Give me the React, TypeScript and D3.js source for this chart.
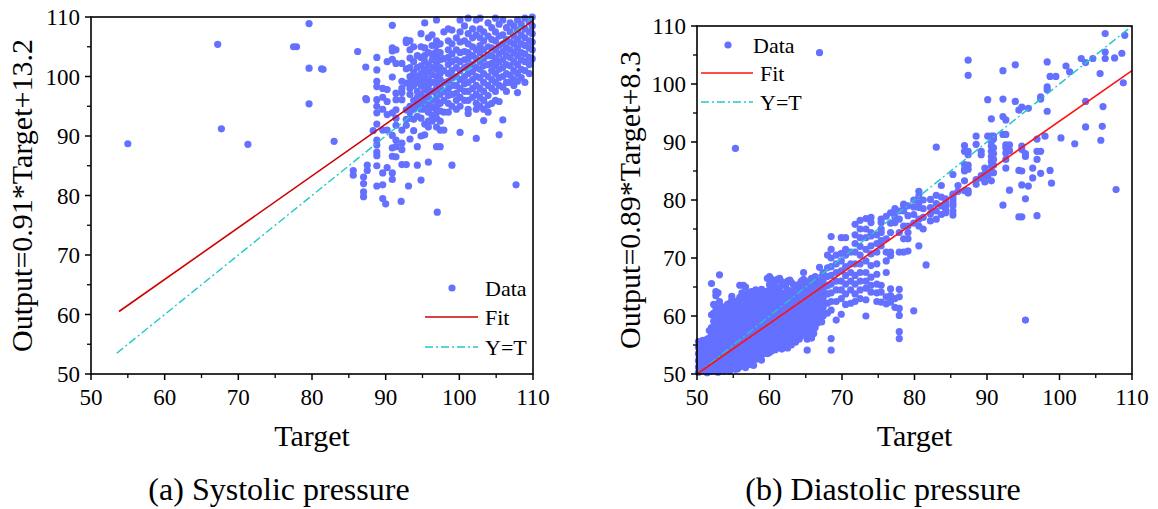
import React from "react";
import * as d3 from "d3";

type Pt = [number, number];

const axisTicks = [50, 60, 70, 80, 90, 100, 110];
const minorTicks = [55, 65, 75, 85, 95, 105];

// (a) Systolic: isolated points
const sysOutliers: Pt[] = [
  [55, 88.7], [67.2, 105.4], [67.7, 91.2], [71.3, 88.6], [77.5, 105.0], [77.9, 105.0],
  [79.6, 108.9], [79.6, 101.4], [81.3, 101.3], [81.5, 101.2], [79.6, 95.4], [83.0, 89.1],
  [85.6, 84.2], [85.6, 83.4], [86.2, 104.2], [87.0, 83.1], [87.0, 82.0], [87.0, 80.6],
  [87.0, 79.8], [87.3, 101.6], [87.3, 96.3], [87.4, 96.1], [87.5, 85.1], [87.5, 84.2],
  [88.3, 90.9], [107.7, 81.8], [97.0, 77.2], [93.1, 81.6], [92.1, 79.0], [90.0, 78.6],
];

// (a) Systolic: target columns with their outputs
const sysColumns: [number, number[]][] = [
  [88.8, [103.2, 101.1, 99.2, 98.3, 96.1, 95.0, 93.9, 92.0, 89.3, 88.5, 87.3, 86.7, 85.0, 81.6]],
  [89.6, [98.0, 96.5, 94.5, 91.0, 83.8, 81.8, 79.5]],
  [90.2, [102.5, 97.8, 95.8, 91.0, 93.6, 84.7]],
  [90.9, [108.6, 104.8, 104.3, 102.9, 99.9, 93.9, 90.1, 88.0, 86.6, 83.8, 82.7]],
  [91.4, [104.5, 102.2, 97.2, 96.1, 94.4, 93.0, 91.8, 89.3, 88.2, 86.5]],
  [92.2, [102.2, 99.2, 98.0, 97.3, 96.1, 91.0, 88.8, 87.7, 85.2]],
  [92.8, [106.1, 105.7, 101.3, 98.9, 94.4, 92.8, 91.8, 85.2]],
  [93.3, [106.0, 104.5, 103.1, 101.5, 100.0, 99.0, 98.0, 97.0, 95.0, 94.0, 93.0, 89.5]],
  [93.8, [105.0, 102.5, 100.7, 99.5, 98.5, 96.0, 94.5, 92.8, 90.9]],
  [94.3, [103.5, 101.5, 100.0, 99.0, 97.5, 96.5, 95.0, 93.3, 88.2, 85.1]],
  [94.8, [107.2, 105.0, 103.2, 101.8, 100.5, 99.5, 98.5, 97.0, 95.5, 94.5, 93.0, 90.0, 82.6]],
  [95.3, [109.0, 104.8, 103.5, 102.5, 101.2, 100.2, 99.0, 97.8, 96.5, 95.5, 94.5, 92.0, 90.2]],
  [95.8, [106.5, 104.0, 102.0, 100.8, 99.5, 98.5, 97.5, 96.5, 95.2, 94.0, 92.5, 91.5, 85.6]],
  [96.3, [107.0, 105.2, 103.8, 102.8, 101.5, 100.3, 99.0, 97.5, 96.0, 94.8, 93.5, 92.5]],
  [96.9, [109.5, 106.0, 105.2, 104.2, 103.3, 102.2, 101.2, 100.0, 99.0, 98.0, 97.0, 96.0, 95.0, 94.0, 93.0, 91.5, 88.2]],
  [97.4, [105.5, 104.0, 102.8, 101.5, 100.5, 99.5, 98.2, 97.0, 95.5, 94.2, 92.5, 91.0, 88.2]],
  [97.9, [107.5, 103.0, 101.0, 99.0, 97.5, 96.0, 94.0, 91.0]],
  [98.5, [108.0, 106.0, 104.5, 103.2, 102.0, 100.5, 99.2, 98.0, 96.8, 95.5, 94.0]],
  [99.0, [107.8, 105.5, 103.8, 102.5, 101.0, 99.8, 98.5, 97.0, 95.0, 85.1]],
  [99.6, [106.5, 104.5, 102.8, 101.5, 100.0, 98.5, 97.2, 96.0, 94.5]],
  [100.1, [109.5, 107.5, 105.8, 104.0, 102.5, 101.0, 99.5, 98.0, 96.5, 95.0, 90.6]],
  [100.7, [108.5, 106.0, 104.2, 102.8, 101.5, 100.0, 98.8, 97.5, 96.0]],
  [101.2, [109.8, 107.2, 105.5, 104.0, 103.0, 101.8, 100.5, 99.0, 97.5, 96.0, 94.5, 93.8]],
  [101.8, [108.0, 106.5, 105.0, 103.5, 102.0, 100.8, 99.5, 98.0, 96.5]],
  [102.3, [109.5, 107.0, 104.5, 103.0, 101.5, 100.0, 98.5, 97.0, 95.5, 94.5, 89.6]],
  [102.8, [109.8, 108.0, 106.5, 105.2, 104.0, 102.5, 101.2, 99.8, 98.0, 96.5, 95.0]],
  [103.3, [107.5, 106.0, 104.5, 103.0, 101.8, 100.5, 99.0, 97.5, 96.0, 94.5, 92.6]],
  [103.9, [109.0, 106.8, 105.0, 103.5, 102.0, 100.0, 98.5, 96.8, 95.2, 94.0]],
  [104.4, [108.2, 106.2, 104.8, 103.5, 102.2, 101.0, 99.5, 98.0, 95.5]],
  [104.9, [109.8, 107.5, 106.0, 104.5, 103.0, 101.8, 100.5, 99.0, 97.5, 96.0]],
  [105.4, [108.8, 106.8, 105.2, 103.8, 102.5, 101.2, 99.8, 98.5, 95.8, 90.2]],
  [105.9, [109.5, 107.0, 105.5, 104.2, 102.8, 101.5, 100.0, 98.2, 92.7]],
  [106.4, [108.2, 106.2, 104.8, 103.5, 102.0, 100.5, 99.0, 97.5]],
  [106.9, [109.0, 107.5, 105.8, 104.5, 103.2, 101.8, 100.2, 99.0]],
  [107.4, [108.5, 106.8, 105.5, 104.0, 102.5, 101.0, 99.5, 98.5]],
  [107.9, [109.5, 107.8, 106.2, 104.8, 103.5, 102.0, 100.5, 99.2, 97.3]],
  [108.4, [108.8, 107.0, 105.5, 104.0, 102.8, 101.2, 99.8]],
  [108.9, [109.8, 108.0, 106.5, 105.2, 103.8, 102.5, 101.0, 99.0]],
  [109.5, [109.2, 107.5, 106.0, 104.8, 103.2, 102.0, 100.5]],
  [109.9, [110.0, 108.5, 107.2, 105.8, 104.5, 103.0]],
];

// (b) Diastolic: target columns with their outputs
const diaColumns: [number, number[]][] = [
  [50.2, [50.3, 51.2, 52.3, 53.5, 54.6, 55.6]],
  [50.5, [50.9, 52.8, 54.1, 55.0]],
  [50.8, [50.6, 51.8, 53.0, 54.0, 55.2, 55.8]],
  [51.1, [50.9, 52.0, 53.2, 54.9, 55.4]],
  [51.4, [50.2, 51.3, 52.5, 53.8, 54.5, 55.0, 56.0]],
  [51.7, [51.0, 52.2, 53.4, 54.8, 56.2, 57.5]],
  [52.0, [50.5, 51.7, 52.9, 54.2, 55.5, 56.8, 58.0, 60.2, 65.6]],
  [52.3, [51.3, 52.6, 54.0, 55.1, 56.4, 57.7, 59.1, 60.5, 62.0]],
  [52.6, [50.8, 52.0, 53.3, 54.5, 55.8, 57.2, 58.5, 59.8, 60.8, 61.5, 63.5, 64.2]],
  [52.9, [50.3, 51.6, 52.9, 54.0, 55.3, 56.6, 58.0, 59.3, 60.3, 64.0]],
  [53.1, [51.2, 52.5, 53.6, 55.0, 56.2, 57.5, 58.8, 60.0, 61.0, 62.5, 67.1]],
  [53.4, [50.9, 52.0, 53.2, 54.6, 55.9, 57.1, 58.4, 59.6, 61.6]],
  [53.7, [50.5, 51.8, 53.0, 54.3, 55.6, 56.9, 58.1, 59.5, 60.5]],
  [54.0, [51.4, 52.8, 54.1, 55.4, 56.6, 58.0, 59.2, 60.6, 61.4]],
  [54.2, [50.8, 52.2, 53.5, 54.8, 56.0, 57.3, 58.6, 59.8, 61.0, 62.0]],
  [54.5, [50.5, 51.6, 53.0, 54.3, 55.7, 57.0, 58.2, 59.5, 60.8, 62.2]],
  [54.8, [51.0, 52.4, 53.8, 55.2, 56.5, 57.8, 59.0, 60.3, 61.5, 62.8, 63.4]],
  [55.1, [51.5, 52.7, 54.0, 55.6, 56.9, 58.0, 59.6, 60.8, 61.8]],
  [55.3, [50.8, 52.0, 53.3, 54.6, 56.0, 57.2, 58.5, 60.0, 61.2, 88.9]],
  [55.6, [50.9, 51.8, 53.7, 55.0, 56.3, 57.6, 59.0, 60.2, 61.6, 62.6]],
  [55.9, [51.2, 52.6, 54.0, 55.4, 56.7, 58.0, 59.3, 60.6, 62.0, 63.2, 65.3]],
  [56.2, [52.1, 53.4, 54.8, 56.1, 57.4, 58.8, 60.1, 61.4, 62.7, 64.0]],
  [56.4, [51.5, 52.8, 54.2, 55.5, 56.8, 58.2, 59.5, 60.8, 62.2, 65.3]],
  [56.7, [51.1, 52.3, 53.6, 55.0, 56.3, 57.6, 59.0, 60.3, 61.6, 63.4, 65.0]],
  [57.0, [51.6, 53.0, 54.4, 55.8, 57.2, 58.5, 59.8, 61.0, 62.3, 63.6, 64.0]],
  [57.3, [52.3, 53.7, 55.1, 56.5, 57.9, 59.2, 60.6, 61.9, 63.2]],
  [57.5, [51.6, 53.2, 54.7, 56.0, 57.5, 58.8, 60.2, 61.5, 62.8, 64.2]],
  [57.8, [51.5, 52.8, 54.2, 55.6, 57.0, 58.4, 59.7, 61.2, 62.4, 63.8]],
  [58.1, [52.5, 54.0, 55.5, 56.8, 58.2, 59.5, 60.8, 62.0, 63.3, 64.5]],
  [58.4, [53.3, 54.7, 56.3, 57.6, 59.0, 60.4, 61.7, 63.0]],
  [58.6, [53.0, 54.5, 55.8, 57.2, 58.6, 60.0, 61.2, 62.5, 63.8]],
  [58.9, [52.4, 53.8, 55.2, 56.6, 57.9, 59.3, 60.7, 62.0, 63.3, 64.6]],
  [59.2, [53.5, 54.8, 56.2, 57.5, 58.8, 60.2, 61.5, 62.8, 64.0]],
  [59.5, [54.2, 55.6, 57.0, 58.4, 59.8, 61.1, 62.4, 63.7]],
  [59.7, [53.5, 55.0, 56.5, 57.8, 59.2, 60.5, 61.8, 63.0, 64.3, 66.5]],
  [60.0, [53.7, 55.0, 56.2, 57.4, 58.7, 60.0, 61.3, 62.6, 64.0, 65.4, 66.8]],
  [60.3, [54.0, 55.3, 56.6, 58.0, 59.3, 60.6, 62.0, 63.3, 64.6, 66.3]],
  [60.6, [54.8, 56.2, 57.6, 59.0, 60.3, 61.6, 63.0, 64.2, 65.6]],
  [60.8, [54.2, 55.6, 57.0, 58.4, 59.6, 61.0, 62.3, 63.6, 64.8, 66.0]],
  [61.1, [55.0, 56.4, 57.8, 59.2, 60.6, 62.0, 63.2, 64.4, 66.3]],
  [61.4, [54.6, 56.0, 57.3, 58.6, 60.0, 61.3, 62.6, 63.8, 65.0, 66.5]],
  [61.7, [54.3, 55.7, 57.1, 58.4, 59.7, 61.0, 62.3, 63.6, 65.9]],
  [61.9, [55.2, 56.5, 57.8, 59.0, 60.3, 61.5, 62.8, 64.0, 65.5]],
  [62.2, [55.8, 57.2, 58.6, 60.0, 61.2, 62.5, 63.8, 65.2]],
  [62.5, [54.5, 55.5, 57.0, 58.2, 59.5, 60.8, 62.0, 63.3, 64.5, 66.0]],
  [62.8, [56.0, 57.4, 58.8, 60.0, 61.3, 62.6, 64.0, 66.2]],
  [63.0, [55.0, 56.5, 57.8, 59.0, 60.5, 61.8, 63.0, 64.3, 65.8]],
  [63.3, [55.8, 57.2, 58.5, 59.8, 61.2, 62.6, 64.0, 65.4]],
  [63.6, [55.5, 56.8, 58.2, 59.6, 61.0, 62.2, 63.5, 64.8]],
  [63.9, [56.4, 57.8, 59.2, 60.6, 62.0, 63.2, 64.4]],
  [64.1, [56.0, 57.5, 58.8, 60.2, 61.5, 62.8, 64.0, 65.5]],
  [64.4, [56.6, 58.0, 59.4, 60.8, 62.2, 63.5, 64.8, 66.0]],
  [64.7, [57.0, 58.5, 60.0, 61.2, 62.5, 63.8, 65.0, 66.3, 67.5]],
  [65.0, [57.6, 59.2, 60.6, 62.0, 63.5, 64.8, 66.0]],
  [65.2, [54.1, 56.0, 58.8, 60.0, 61.8, 63.2, 64.5, 65.8]],
  [65.5, [56.8, 58.2, 59.6, 61.0, 62.6, 64.0, 65.4]],
  [65.8, [56.2, 57.5, 59.0, 60.5, 62.0, 63.5, 65.0, 66.5]],
  [66.1, [57.0, 58.6, 60.0, 61.6, 63.0, 64.5, 66.0]],
  [66.3, [58.0, 59.5, 61.0, 62.5, 63.8, 65.2, 66.8]],
  [66.6, [58.8, 60.2, 61.8, 63.2, 64.8, 66.2]],
  [66.9, [59.5, 61.0, 62.5, 64.0, 65.5, 68.4, 105.4]],
  [67.2, [59.0, 60.6, 62.2, 63.8, 65.2, 66.8]],
  [67.4, [60.0, 61.5, 63.0, 64.5, 66.0, 67.5]],
  [68.0, [60.5, 62.2, 63.8, 65.2, 66.8, 68.3, 70.5]],
  [68.5, [54.1, 56.1, 61.0, 62.5, 64.0, 65.5, 67.0, 68.5, 70.0, 71.5, 73.7]],
  [69.2, [59.3, 62.5, 64.5, 66.0, 67.5, 69.0, 70.5]],
  [69.9, [60.3, 63.0, 64.5, 66.0, 67.8, 69.5, 70.8, 73.5]],
  [70.5, [62.0, 63.8, 65.5, 67.0, 68.5, 70.5, 71.5, 73.5]],
  [71.2, [62.2, 64.5, 66.0, 67.5, 69.0, 71.0]],
  [71.8, [62.5, 63.8, 65.5, 67.0, 69.0, 71.0, 72.5, 74.0, 75.8]],
  [72.5, [63.0, 64.5, 66.0, 67.5, 69.0, 70.5, 72.0, 73.5, 75.0, 76.5]],
  [73.3, [60.0, 62.8, 64.8, 66.0, 67.5, 69.5, 71.5, 73.5, 75.0, 76.8]],
  [74.0, [64.1, 65.3, 66.7, 68.7, 70.7, 72.1, 73.8, 74.4, 76.1, 77.0]],
  [74.8, [62.5, 64.0, 65.5, 67.2, 69.0, 71.0, 72.5, 74.0]],
  [75.4, [62.4, 64.1, 65.3, 72.1, 73.0, 74.4, 75.0, 76.1, 76.7]],
  [76.1, [62.1, 63.3, 67.5, 69.5, 71.0, 73.3, 77.2]],
  [76.7, [62.4, 63.5, 64.7, 70.4, 71.0, 74.4, 76.0, 77.8]],
  [77.3, [61.5, 63.0, 76.1, 77.0, 77.8, 78.5]],
  [77.9, [56.1, 57.3, 60.1, 61.3, 63.3, 64.6, 71.0, 74.4, 76.7, 78.1]],
  [78.5, [71.0, 73.3, 75.5, 78.1, 79.0, 79.3]],
  [79.1, [71.2, 73.3, 74.4, 75.5, 77.3, 79.0]],
  [79.9, [60.9, 76.0, 77.5, 78.8, 80.0]],
  [80.6, [72.1, 75.5, 76.7, 78.7, 79.5, 80.7, 81.5]],
  [81.2, [75.0, 77.0, 78.5, 80.0]],
  [81.6, [68.8]],
  [82.2, [76.4, 77.6, 78.7, 80.1]],
  [83.0, [76.7, 78.1, 79.4, 80.8, 89.1]],
  [83.7, [77.5, 79.0, 80.5, 82.5]],
  [84.3, [77.8, 78.4, 79.0, 79.5, 80.2]],
  [85.3, [77.4, 78.1, 79.0, 79.5, 80.1, 80.7, 81.0, 84.4]],
  [86.0, [81.5, 82.5]],
  [86.9, [81.6, 83.3, 85.0, 85.3, 86.1, 88.4, 89.4]],
  [87.4, [81.2, 81.6, 85.3, 86.0, 87.8, 88.4, 101.5, 104.1]],
  [88.5, [82.7, 83.5, 89.6, 91.0]],
  [89.2, [83.8, 84.2, 87.8, 88.4]],
  [89.7, [83.1, 84.5, 85.5]],
  [90.1, [84.1, 91.0, 97.3]],
  [90.6, [83.3, 85.0, 85.8, 86.7, 87.5, 88.4, 89.3, 90.1, 91.0, 94.0]],
  [90.9, [84.7, 86.0, 87.0, 88.0, 89.0, 90.5, 91.0]],
  [92.2, [79.1, 91.3, 94.4, 97.4, 102.3]],
  [92.6, [85.5, 87.0, 88.1, 89.0, 89.5, 91.3, 93.8]],
  [93.1, [81.7, 88.5, 89.5]],
  [93.9, [97.0, 103.3]],
  [94.4, [77.1, 85.1, 95.5]],
  [94.8, [77.1, 82.6, 85.0, 88.7, 89.3, 96.0]],
  [95.3, [59.3, 80.2, 87.5, 88.0]],
  [95.7, [82.4, 95.8]],
  [96.3, [83.8, 85.5]],
  [96.9, [77.3, 87.0, 88.4, 90.5]],
  [97.4, [84.6, 88.4, 97.4, 97.8]],
  [98.0, [91.0]],
  [98.3, [95.3, 99.0, 99.5, 103.8]],
  [98.7, [85.1, 101.3]],
  [98.9, [82.9]],
  [99.5, [101.3]],
  [100.2, [90.7]],
  [100.9, [103.1]],
  [101.4, [102.1]],
  [102.1, [89.7]],
  [103.0, [104.4]],
  [103.6, [92.6, 97.0, 103.7]],
  [104.6, [104.4]],
  [105.6, [101.8]],
  [105.7, [90.3]],
  [105.9, [92.7]],
  [106.0, [96.1]],
  [106.3, [104.4, 105.5, 108.7]],
  [107.6, [104.5]],
  [107.8, [81.8]],
  [108.6, [105.3]],
  [108.8, [100.2]],
  [109.0, [108.4]],
];

const sysFit: Pt[] = [[53.8, 60.5], [110, 109.4]];
const sysIdentity: Pt[] = [[53.5, 53.5], [110, 110]];
const diaFit: Pt[] = [[50, 50], [110, 102.3]];
const diaIdentity: Pt[] = [[50, 50], [110, 110]];

const flatten = (cols: [number, number[]][]): Pt[] =>
  cols.flatMap(([t, ys]) => ys.map((v) => [t, v] as Pt));

const sysPoints: Pt[] = [...sysOutliers, ...flatten(sysColumns)];
const diaPoints: Pt[] = flatten(diaColumns);

const FONT = "'Liberation Serif', 'Times New Roman', serif";
const DOT = "#6470ff";
const CYAN = "#22c8c8";

type LegendSpec = { dotX: number; dotY: number; textX: number; lineX0: number; lineX1: number; fitY: number; idY: number; textX2: number };

function Panel(props: {
  left: number; right: number; top: number; bottom: number;
  points: Pt[]; fit: Pt[]; ident: Pt[]; fitColor: string;
  yTitle: string; yTitleX: number; caption: string; captionX: number; legend: LegendSpec;
}) {
  const { left, right, top, bottom, points, fit, ident, fitColor, yTitle, yTitleX, caption, captionX, legend } = props;
  const x = d3.scaleLinear().domain([50, 110]).range([left, right]);
  const y = d3.scaleLinear().domain([50, 110]).range([bottom, top]);
  const line = d3.line<Pt>().x((d) => x(d[0])).y((d) => y(d[1]));
  const cx = (left + right) / 2;
  const cy = (top + bottom) / 2;
  return (
    <g>
      {points.map((p, i) => (
        <circle key={i} cx={x(p[0])} cy={y(p[1])} r={3.6} fill={DOT} />
      ))}
      <path d={line(ident) || ""} fill="none" stroke={CYAN} strokeWidth={1.4} strokeDasharray="8,3,2,3" />
      <path d={line(fit) || ""} fill="none" stroke={fitColor} strokeWidth={1.6} />
      <rect x={left} y={top} width={right - left} height={bottom - top} fill="none" stroke="#000" strokeWidth={1.6} />
      {axisTicks.map((t) => (
        <g key={"x" + t}>
          <line x1={x(t)} x2={x(t)} y1={bottom} y2={bottom + 6} stroke="#000" strokeWidth={1.5} />
          <text x={x(t)} y={bottom + 31} textAnchor="middle" fontSize={23} fontFamily={FONT}>{t}</text>
          <line x1={left} x2={left - 6} y1={y(t)} y2={y(t)} stroke="#000" strokeWidth={1.5} />
          <text x={left - 11} y={y(t) + 8} textAnchor="end" fontSize={23} fontFamily={FONT}>{t}</text>
        </g>
      ))}
      {minorTicks.map((t) => (
        <g key={"m" + t}>
          <line x1={x(t)} x2={x(t)} y1={bottom} y2={bottom + 4} stroke="#000" strokeWidth={1.3} />
          <line x1={left} x2={left - 4} y1={y(t)} y2={y(t)} stroke="#000" strokeWidth={1.3} />
        </g>
      ))}
      <text x={cx} y={bottom + 72} textAnchor="middle" fontSize={30} fontFamily={FONT}>Target</text>
      <text transform={`translate(${yTitleX},${cy}) rotate(-90)`} textAnchor="middle" fontSize={30} fontFamily={FONT}>{yTitle}</text>
      <text x={captionX} y={bottom + 126} textAnchor="middle" fontSize={32} fontFamily={FONT}>{caption}</text>
      <circle cx={legend.dotX} cy={legend.dotY} r={3.6} fill={DOT} />
      <text x={legend.textX} y={legend.dotY + 8} fontSize={22} fontFamily={FONT}>Data</text>
      <line x1={legend.lineX0} x2={legend.lineX1} y1={legend.fitY} y2={legend.fitY} stroke={fitColor} strokeWidth={1.6} />
      <text x={legend.textX2} y={legend.fitY + 8} fontSize={22} fontFamily={FONT}>Fit</text>
      <line x1={legend.lineX0} x2={legend.lineX1} y1={legend.idY} y2={legend.idY} stroke={CYAN} strokeWidth={1.4} strokeDasharray="8,3,2,3" />
      <text x={legend.textX2} y={legend.idY + 8} fontSize={22} fontFamily={FONT}>Y=T</text>
    </g>
  );
}

export default function App() {
  return (
    <svg width={1158} height={509} style={{ position: "absolute", left: 0, top: 0, background: "#fff" }}>
      <rect width={1158} height={509} fill="#fff" />
      <Panel
        left={91} right={533} top={17} bottom={374}
        points={sysPoints} fit={sysFit} ident={sysIdentity} fitColor="#cc0000"
        yTitle="Output=0.91*Target+13.2" yTitleX={32} caption="(a) Systolic pressure" captionX={279}
        legend={{ dotX: 452, dotY: 288, textX: 485, lineX0: 425, lineX1: 478, fitY: 317, idY: 347, textX2: 485 }}
      />
      <Panel
        left={697} right={1132} top={26} bottom={374}
        points={diaPoints} fit={diaFit} ident={diaIdentity} fitColor="#ff1010"
        yTitle="Output=0.89*Target+8.3" yTitleX={640} caption="(b) Diastolic pressure" captionX={883}
        legend={{ dotX: 728, dotY: 45, textX: 753, lineX0: 701, lineX1: 753, fitY: 73, idY: 102, textX2: 760 }}
      />
    </svg>
  );
}
